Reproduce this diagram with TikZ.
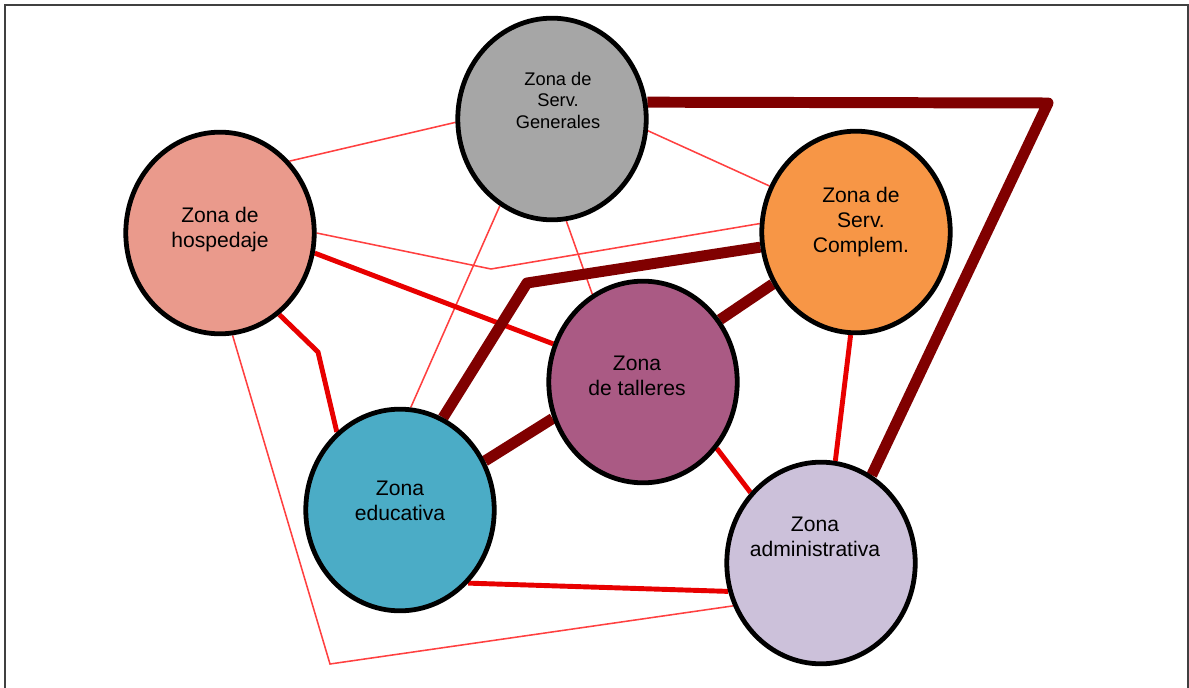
\documentclass[tikz,border=0pt]{standalone}
\usepackage{fontspec}
\setmainfont{Liberation Sans}
\usepackage{tikz}
\usetikzlibrary{shapes.geometric,calc}
\pgfdeclarelayer{background}
\pgfdeclarelayer{foreground}
\pgfsetlayers{background,main,foreground}
\definecolor{gris}{HTML}{A6A6A6}
\definecolor{salmon}{HTML}{EA9A8C}
\definecolor{naranja}{HTML}{F79646}
\definecolor{morado}{HTML}{AA5A84}
\definecolor{turquesa}{HTML}{4BACC6}
\definecolor{lavanda}{HTML}{CCC1DA}
\definecolor{rojoclaro}{HTML}{FF4040}
\definecolor{rojo}{HTML}{E80000}
\definecolor{granate}{HTML}{800000}
\tikzstyle{zona} = [ellipse, draw=black, line width=3.4pt, minimum width=4.71cm,
minimum height=5.04cm, inner sep=0pt]
\tikzstyle{texto} = [align=center, text=black, font=\fontsize{15}{17.8}\selectfont]
\tikzstyle{marco} = [draw, color=black!75, line width=1pt]
\tikzstyle{fina} = [draw, color=rojoclaro, line width=1.1pt]
\tikzstyle{gruesa} = [draw, color=rojo, line width=3.5pt]
\tikzstyle{oscura} = [draw, color=granate, line width=7.8pt, line join=round]
\newcommand{\zona}[2]{node (#1)[zona, fill=#2]{}}
\newcommand{\rotulo}[2]{node (#1-t)[texto]{#2}}
\begin{document}
\begin{tikzpicture}[x=0.025cm, y=-0.025cm]
	\useasboundingbox (0,0) rectangle (1189,688);
	\path[marco] (5,695) -- (5,5) -- (1188,5) -- (1188,695);
	
	% Draw diagram elements
	\path (552,119) \zona{gen}{gris};
	\path (220,233) \zona{hos}{salmon};
	\path (856,232) \zona{com}{naranja};
	\path (643,382) \zona{tal}{morado};
	\path (400,510) \zona{edu}{turquesa};
	\path (821,563) \zona{adm}{lavanda};
	
	% Texts inside the zones
	\path (gen)+(6,-19) node (gen-t)[texto, font=\fontsize{13}{15.3}\selectfont]{Zona de\\Serv.\\Generales};
	\path (hos)+(0,-3) \rotulo{hos}{Zona de\\hospedaje};
	\path (com)+(5,-10) \rotulo{com}{Zona de\\Serv.\\Complem.};
	\path (tal)+(-6,-6) \rotulo{tal}{Zona\\de talleres};
	\path (edu)+(0,-9) \rotulo{edu}{Zona\\educativa};
	\path (adm)+(-6,-26) \rotulo{adm}{Zona\\administrativa};
	
	% Draw connections between elements
	\begin{pgfonlayer}{background}
		\path [fina] (hos.46) -- (gen.182);
		\path [fina] (gen.353) -- (com.152);
		\path [fina] (hos.0) -- (491,269) -- (com.175);
		\path [fina] (gen.278) -- (tal.120);
		\path [fina] (gen.239) -- (edu.84);
		\path [fina] (hos.277) -- (330,664) -- (adm.206);
		
		\path [gruesa] (hos.348) -- (tal.157);
		\path [gruesa] (hos.306) -- (318,352) -- (edu.129);
		\path [gruesa] (tal.318) -- (adm.135);
		\path [gruesa] (com.267) -- (adm.82);
		\path [gruesa] (edu.313) -- (adm.197);
		
		\path [oscura] (gen.10) -- (1048,103) -- (adm.60);
		\path [oscura] (com.189) -- (527,283) -- (edu.65);
		\path [oscura] (tal.39) -- (com.212);
		\path [oscura] (tal.202) -- (edu.30);
	\end{pgfonlayer}
	
\end{tikzpicture}
\end{document}
